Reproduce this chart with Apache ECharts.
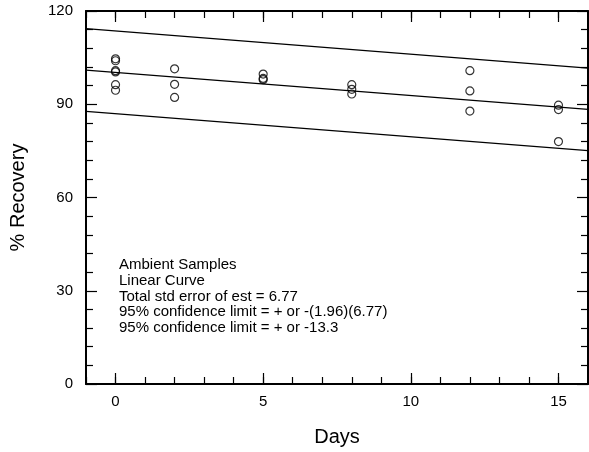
<!DOCTYPE html>
<html>
<head>
<meta charset="utf-8">
<script src="https://cdn.jsdelivr.net/npm/echarts@6/dist/echarts.min.js"></script>
<style>
  html, body { margin: 0; padding: 0; background: #fff; }
  #chart { width: 589px; height: 452px; }
</style>
</head>
<body>
<div id="chart"></div>
<script>
// sample points (days, % recovery)
const pointDays = [0, 0, 0, 0, 0, 0, 2, 2, 2, 5, 5, 5, 8, 8, 8, 12, 12, 12, 15, 15, 15]
const pointValues = [104.6, 104.0, 100.8, 100.4, 96.3, 94.5, 101.4, 96.4, 92.2, 99.7, 98.3, 97.9, 96.3, 94.8, 93.3, 100.8, 94.3, 87.8, 89.7, 88.3, 78.0]

// fitted line and 95% limits, read at the ends of the axis
const lineDays = [-1, 16]
const fitValues = [101.0, 88.35]
const upperValues = [114.3, 101.65]
const lowerValues = [87.7, 75.05]

const xMajorTicks = [0, 5, 10, 15]
const noteLines = [
  'Ambient Samples',
  'Linear Curve',
  'Total std error of est = 6.77',
  '95% confidence limit = + or -(1.96)(6.77)',
  '95% confidence limit = + or -13.3',
]

const font = 'Liberation Sans, Arial, sans-serif'
const pairs = (xs, ys) => xs.map((x, i) => [x, ys[i]])

const chart = echarts.init(document.getElementById('chart'), null, { renderer: 'canvas' })

const xBase = {
  type: 'value', min: -1, max: 16,
  splitLine: { show: false },
}
const axisLine = { show: true, onZero: false, lineStyle: { color: '#000', width: 2 } }
const tickLine = { color: '#000', width: 1.2 }

chart.setOption({
  animation: false,
  grid: { left: 86, right: 1, top: 11, bottom: 63 },
  xAxis: [
    {
      ...xBase, position: 'bottom',
      axisLine,
      axisTick: { show: true, inside: true, length: 11, customValues: xMajorTicks, lineStyle: tickLine },
      axisLabel: { show: true, customValues: xMajorTicks, color: '#000', fontSize: 15, fontFamily: font, margin: 10 },
      name: 'Days', nameLocation: 'middle', nameGap: 43,
      nameTextStyle: { color: '#000', fontSize: 20, fontFamily: font },
    },
    {
      ...xBase, position: 'bottom', interval: 1,
      axisLine: { show: false, onZero: false },
      axisTick: { show: true, inside: true, length: 7, lineStyle: tickLine },
      axisLabel: { show: false },
    },
    {
      ...xBase, position: 'top',
      axisLine,
      axisTick: { show: true, inside: true, length: 11, customValues: xMajorTicks, lineStyle: tickLine },
      axisLabel: { show: false },
    },
    {
      ...xBase, position: 'top', interval: 1,
      axisLine: { show: false, onZero: false },
      axisTick: { show: true, inside: true, length: 7, lineStyle: tickLine },
      axisLabel: { show: false },
    },
  ],
  yAxis: [
    {
      type: 'value', min: 0, max: 120, interval: 30, position: 'left',
      axisLine,
      axisTick: { show: true, inside: true, length: 11, lineStyle: tickLine },
      minorTick: { show: true, splitNumber: 5, length: 7, lineStyle: tickLine },
      axisLabel: { color: '#000', fontSize: 15, fontFamily: font, margin: 13 },
      splitLine: { show: false },
      name: '% Recovery', nameLocation: 'middle', nameGap: 58, nameRotate: 90,
      nameTextStyle: { color: '#000', fontSize: 20, fontFamily: font },
    },
    {
      type: 'value', min: 0, max: 120, interval: 30, position: 'right',
      axisLine,
      axisTick: { show: true, inside: true, length: 11, lineStyle: tickLine },
      minorTick: { show: true, splitNumber: 5, length: 7, lineStyle: tickLine },
      axisLabel: { show: false },
      splitLine: { show: false },
    },
  ],
  graphic: [
    {
      type: 'text', left: 119, top: 257,
      style: {
        text: noteLines.join('\n'),
        fill: '#000', fontSize: 15, fontFamily: font, lineHeight: 15.8,
      },
    },
  ],
  series: [
    {
      type: 'line', data: pairs(lineDays, upperValues), showSymbol: false,
      lineStyle: { color: '#000', width: 1.3 }, silent: true,
    },
    {
      type: 'line', data: pairs(lineDays, fitValues), showSymbol: false,
      lineStyle: { color: '#000', width: 1.3 }, silent: true,
    },
    {
      type: 'line', data: pairs(lineDays, lowerValues), showSymbol: false,
      lineStyle: { color: '#000', width: 1.3 }, silent: true,
    },
    {
      type: 'scatter', data: pairs(pointDays, pointValues),
      symbol: 'circle', symbolSize: 8,
      itemStyle: { color: 'rgba(0,0,0,0)', borderColor: '#000', borderWidth: 1.2 },
    },
  ],
})
</script>
</body>
</html>
